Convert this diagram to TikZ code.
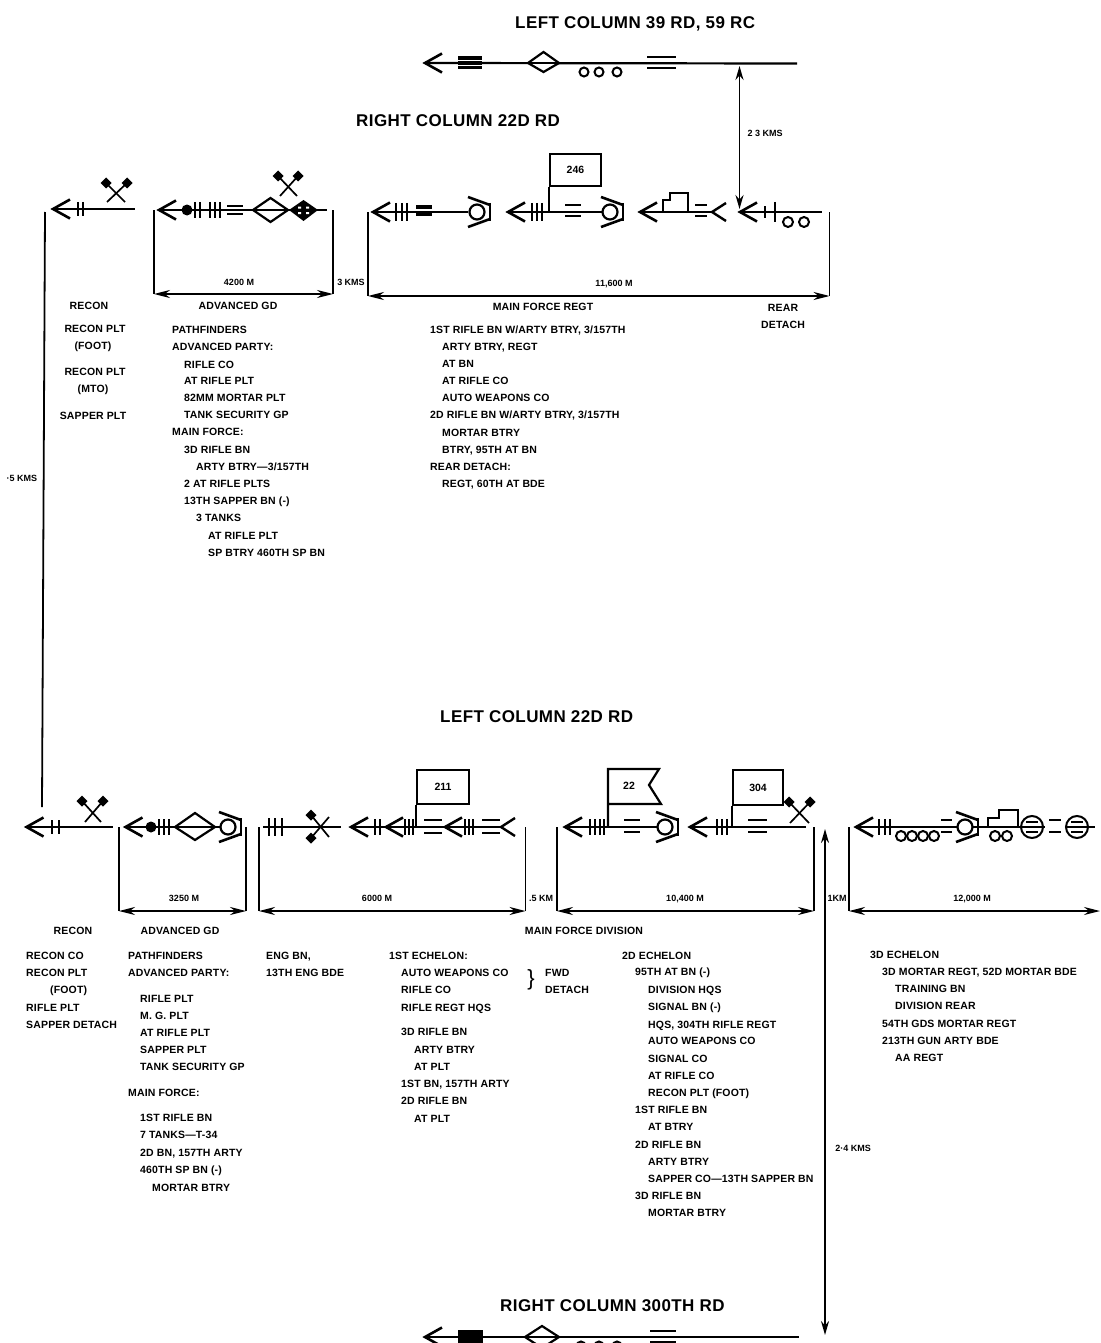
\documentclass[tikz,border=0pt]{standalone}
\usepackage{fontspec}
\usetikzlibrary{arrows.meta}
\setmainfont{Liberation Sans}
\newcounter{nn}
\tikzset{
 lab/.style={font=\fontsize{10.5}{11}\selectfont\bfseries\addfontfeature{LetterSpace=1.5},inner sep=0pt,text height=7.5pt,text depth=0pt},
 sml/.style={font=\fontsize{9}{10}\selectfont\bfseries,inner sep=0pt,text height=6.5pt,text depth=0pt},
 ttl/.style={font=\fontsize{17}{18}\selectfont\bfseries\addfontfeature{LetterSpace=2.5},inner sep=0pt,text height=12pt,text depth=0pt},
 sym/.style={line width=2.2pt,black,line join=miter},
 brk/.style={line width=1.5pt,black},
 dimline/.style={line width=1.8pt,black},
 flagbox/.style={draw,line width=2pt,inner sep=0pt,anchor=north west,font=\fontsize{10.5}{11}\selectfont\bfseries},
}
\newcommand{\Tl}[3]{\stepcounter{nn}\node[lab,anchor=west] (t\thenn) at (#1,#2) {#3};}
\newcommand{\Tc}[3]{\stepcounter{nn}\node[lab,anchor=center] (t\thenn) at (#1,#2) {#3};}
\newcommand{\Ts}[3]{\stepcounter{nn}\node[sml,anchor=center] (t\thenn) at (#1,#2) {#3};}
\newcommand{\Tt}[3]{\stepcounter{nn}\node[ttl,anchor=west] (t\thenn) at (#1,#2) {#3};}
% open left-pointing arrow head
\newcommand{\Ah}[2]{\draw[sym,line width=2.6pt] ({#1+17},{#2-9.5})--(#1,#2)--({#1+17},{#2+9.5});}
% ticks: y, half height, list
\newcommand{\Tk}[3]{\foreach \a in {#3}{\draw[sym,line width=2pt] (\a,{#1-#2})--(\a,{#1+#2});}}
% double bar: x1 x2 y1 y2
\newcommand{\Db}[4]{\draw[line width=2.6pt] (#1,#3)--(#2,#3) (#1,#4)--(#2,#4);}
% hash block
\newcommand{\Hb}[4]{\fill (#1,#3) rectangle (#2,#4);}
% crossed flag stick: foot, flag
\newcommand{\Xs}[4]{\draw[line width=1.7pt] (#1,#2)--(#3,#4); \fill (#3,{#4-5.5}) -- ({#3+5.5},#4) -- (#3,{#4+5.5}) -- ({#3-5.5},#4) -- cycle;}
% circle with wedge and bar
\newcommand{\Wc}[2]{\draw[sym,fill=white] (#1,#2) circle (7.5);
  \draw[sym,line width=2.6pt] ({#1-9},{#2-15})--({#1+13},{#2-7}) ({#1-9},{#2+15})--({#1+13},{#2+7});
  \draw[sym,line width=2.6pt] ({#1+13},{#2-9})--({#1+13},{#2+9});}
% tail
\newcommand{\Tail}[2]{\draw[sym,line width=2.4pt] ({#1+14},{#2-9})--(#1,#2)--({#1+14},{#2+9});}
% diamond x1 x2 y1 y2 centre y
\newcommand{\Dm}[5]{\draw[sym,fill=white] (#1,#5)--({(#1+#2)/2},#3)--(#2,#5)--({(#1+#2)/2},#4)--cycle; \draw[sym] (#1,#5)--(#2,#5);}
\newcommand{\Cr}[3]{\draw[line width=2pt,fill=white] (#1,#2) circle (#3);}
\begin{document}
\begin{tikzpicture}[x=1pt,y=-1pt]
\useasboundingbox (0,0) rectangle (1100,1343);
% titles
\Tt{515}{23}{LEFT COLUMN 39 RD, 59 RC}
\Tt{356}{121}{RIGHT COLUMN 22D RD}
\Tt{440}{716}{LEFT COLUMN 22D RD}
\Tt{500}{1305}{RIGHT COLUMN 300TH RD}
% ---- top column
\draw[sym] (425,63)--(797,63.5);
\Ah{425}{63}
\Hb{458}{482}{56}{69}
\draw[white,line width=.5pt] (458,60)--(482,60) (458,65.5)--(482,65.5);
\Dm{528}{559}{52}{72}{63}
\foreach \a in {584,599,617}{\Cr{\a}{72}{4.5}}
\Db{647}{676}{57}{68}
\coordinate (c1a) at (739.5,66); \coordinate (c1b) at (739.5,209);
\draw[dimline,<->,>={Stealth[length=14pt,width=8pt]}] (c1a)--(c1b);
\Ts{765}{133}{2 3 KMS}
% ---- right column row, y=212
% recon
\draw[sym] (53,209)--(135,209); \Ah{53}{209} \Tk{209}{7}{78,83}
\Xs{107}{202}{127}{183} \Xs{125}{202}{106}{183}
\coordinate (v1a) at (45,212); \coordinate (v1b) at (42,807);
\draw[brk,line width=1.8pt] (v1a)--(v1b);
\Ts{22}{478}{·5 KMS}
% advanced gd
\draw[sym] (159,210)--(327,210); \Ah{159}{210}
\fill (187,210) circle (5.5);
\Tk{210}{8}{195,200,210,215,220}
\Db{227}{243}{206}{214}
\Dm{253}{288}{198}{222}{210}
\fill (289,210)--(303.5,200)--(318,210)--(303.5,221)--cycle;
\fill[white] (298,206.5) rectangle (301,208.5) (306,206.5) rectangle (309,208.5) (298,212) rectangle (301,214) (306,212) rectangle (309,214);
\Xs{280}{196}{298}{176} \Xs{297}{196}{278}{176}
\coordinate (b1a) at (154,210); \coordinate (b1b) at (154,294);
\coordinate (b2a) at (333,210); \coordinate (b2b) at (333,294);
\draw[brk] (b1a)--(b1b) (b2a)--(b2b);
\draw[dimline,<->,>={Stealth[length=16pt,width=8pt]}] (b1b)--(b2b);
\Ts{239}{282}{4200 M}
\Ts{351}{282}{3 KMS}
% group 1
\draw[sym] (373,212)--(468,212); \Ah{373}{212} \Tk{212}{9}{396,402,407}
\draw[line width=3.5pt] (416,207)--(432,207) (416,214)--(432,214);
\Wc{477}{212}
% group 246
\draw[sym] (508,212)--(603,212); \Ah{508}{212} \Tk{212}{9}{532,537,542}
\coordinate (p1) at (549,212);
\node[flagbox,minimum width=51pt,minimum height=32pt] (f246) at (549,153) {246};
\draw[sym] (p1)--(f246.south west);
\Db{565}{581}{205}{216}
\Wc{610}{212}
% group tank
\draw[sym] (640,212)--(712,212); \Ah{640}{212}
\draw[sym] (663,212)--(663,200)--(670,200)--(670,193)--(688,193)--(688,212);
\Db{695}{707}{205}{216}
\Tail{712}{212}
% group rear
\draw[sym] (740,212)--(822,212); \Ah{740}{212}
\Tk{212}{6}{765}\Tk{212}{10}{775}
\Cr{788}{222}{5}\Cr{804}{222}{5}
\coordinate (b3a) at (368,212); \coordinate (b3b) at (368,296);
\coordinate (b4a) at (829.5,212); \coordinate (b4b) at (829.5,296);
\draw[brk] (b3a)--(b3b) (b4a)--(b4b);
\draw[dimline,<->,>={Stealth[length=16pt,width=8pt]}] (b3b)--(b4b);
\Ts{614}{283}{11,600 M}
% labels top
\Tc{89}{306}{RECON}\Tc{95}{329}{RECON PLT}\Tc{93}{346}{(FOOT)}\Tc{95}{372}{RECON PLT}\Tc{93}{389}{(MTO)}\Tc{93}{416}{SAPPER PLT}
\Tc{238}{306}{ADVANCED GD}
\Tl{172}{330}{PATHFINDERS}
\Tl{172}{347}{ADVANCED PARTY:}
\Tl{184}{365}{RIFLE CO}
\Tl{184}{381}{AT RIFLE PLT}
\Tl{184}{398}{82MM MORTAR PLT}
\Tl{184}{415}{TANK SECURITY GP}
\Tl{172}{432}{MAIN FORCE:}
\Tl{184}{450}{3D RIFLE BN}
\Tl{196}{467}{ARTY BTRY—3/157TH}
\Tl{184}{484}{2 AT RIFLE PLTS}
\Tl{184}{501}{13TH SAPPER BN (-)}
\Tl{196}{518}{3 TANKS}
\Tl{208}{536}{AT RIFLE PLT}
\Tl{208}{553}{SP BTRY 460TH SP BN}
\Tc{543}{307}{MAIN FORCE REGT}
\Tc{783}{308}{REAR}\Tc{783}{325}{DETACH}
\Tl{430}{330}{1ST RIFLE BN W/ARTY BTRY, 3/157TH}
\Tl{442}{347}{ARTY BTRY, REGT}
\Tl{442}{364}{AT BN}
\Tl{442}{381}{AT RIFLE CO}
\Tl{442}{398}{AUTO WEAPONS CO}
\Tl{430}{415}{2D RIFLE BN W/ARTY BTRY, 3/157TH}
\Tl{442}{433}{MORTAR BTRY}
\Tl{442}{450}{BTRY, 95TH AT BN}
\Tl{430}{467}{REAR DETACH:}
\Tl{442}{484}{REGT, 60TH AT BDE}
% ---- lower row y=827
% recon
\draw[sym] (26.5,827)--(113,827); \Ah{26.5}{827} \Tk{827}{7}{52,59}
\Xs{85}{822}{103}{801} \Xs{101}{822}{82}{801}
% advanced
\draw[sym] (125.5,827)--(222,827); \Ah{125.5}{827}
\fill (151,827) circle (5.5);
\Tk{827}{8}{159,164,169}
\Dm{175}{215}{813}{840}{827}
\Wc{228}{827}
\coordinate (l1a) at (119,827); \coordinate (l1b) at (119,911);
\coordinate (l2a) at (246,827); \coordinate (l2b) at (246,911);
\draw[brk] (l1a)--(l1b) (l2a)--(l2b);
\draw[dimline,<->,>={Stealth[length=16pt,width=8pt]}] (l1b)--(l2b);
\Ts{184}{898}{3250 M}
% 6000 group
\draw[sym] (263,827)--(341,827); \Tk{827}{9}{269,275,282}
\Xs{329}{817}{311}{838} \Xs{329}{837}{311}{815}
\draw[sym] (351,827)--(424,827); \Ah{351}{827} \Tk{827}{8}{375,380}
\Ah{386}{827} \Tk{827}{8}{405,409,413}
\node[flagbox,minimum width=52pt,minimum height=34pt] (f211) at (416,769) {211};
\coordinate (p2) at (416,827);
\draw[sym] (p2)--(f211.south west);
\draw[sym] (424,827)--(501,827);
\Db{424}{442}{820}{833}
\Ah{445}{827} \Tk{827}{8}{465,469,473}
\Db{482}{500}{820}{833}
\Tail{501}{827}
\coordinate (l3a) at (259,827); \coordinate (l3b) at (259,911);
\coordinate (l4a) at (525.5,827); \coordinate (l4b) at (525.5,911);
\draw[brk] (l3a)--(l3b) (l4a)--(l4b);
\draw[dimline,<->,>={Stealth[length=16pt,width=8pt]}] (l3b)--(l4b);
\Ts{377}{898}{6000 M}
\Ts{541}{898}{.5 KM}
% 22 group
\draw[sym] (565,827)--(658,827); \Ah{565}{827} \Tk{827}{8}{590,595,600,604}
\node[inner sep=0pt,font=\fontsize{10.5}{11}\selectfont\bfseries] (f22) at (629,786) {22};
\coordinate (p3) at (608,827);
\draw[sym] (p3)--(608,769)--(659,769)--(649,785)--(661,804)--(608,804);
\Db{624}{640}{820}{832}
\Wc{665}{827}
% 304 group
\draw[sym] (690,827)--(806,827); \Ah{690}{827} \Tk{827}{8}{717,722,727}
\node[flagbox,minimum width=50pt,minimum height=35pt] (f304) at (732,769) {304};
\coordinate (p4) at (732,827);
\draw[sym] (p4)--(f304.south west);
\Db{748}{767}{820}{832}
\Xs{790}{823}{810}{802} \Xs{809}{823}{789}{802}
\coordinate (l5a) at (557,827); \coordinate (l5b) at (557,911);
\coordinate (l6a) at (814,827); \coordinate (l6b) at (814,911);
\draw[brk] (l5a)--(l5b) (l6a)--(l6b);
\draw[dimline,<->,>={Stealth[length=16pt,width=8pt]}] (l5b)--(l6b);
\Ts{685}{898}{10,400 M}
\Ts{837}{898}{1KM}
% rear group
\draw[sym] (856,827)--(1045,827) (1065,827)--(1095,827); \Ah{856}{827} \Tk{827}{8}{879,885,890}
\foreach \a in {901,912,923,934}{\Cr{\a}{836}{5}}
\Db{941}{952}{820}{832}
\Wc{965}{827}
\draw[sym] (988,827)--(988,818)--(999,818)--(999,810)--(1018,810)--(1018,827);
\Cr{995}{836}{5}\Cr{1007}{836}{5}
\Cr{1032}{827}{11}
\Db{1026}{1038}{822}{832}
\Db{1049}{1061}{820}{832}
\Cr{1077}{827}{11}
\Db{1071}{1083}{822}{832}
\draw[line width=1.2pt] (1021,827)--(1043,827) (1066,827)--(1088,827);
\coordinate (l7a) at (849,827); \coordinate (l7b) at (849,911);
\coordinate (l8) at (1100,911);
\draw[brk] (l7a)--(l7b);
\draw[dimline,<->,>={Stealth[length=16pt,width=8pt]}] (l7b)--(l8);
\Ts{972}{898}{12,000 M}
% long vertical arrow
\coordinate (v2a) at (825,829); \coordinate (v2b) at (825,1335);
\draw[dimline,<->,>={Stealth[length=14pt,width=8pt]}] (v2a)--(v2b);
\Ts{853}{1148}{2·4 KMS}
% bottom column
\draw[sym] (425,1337)--(799,1337);
\Ah{425}{1337}
\Hb{458}{483}{1330}{1343}
\Dm{525}{559}{1326}{1348}{1337}
\foreach \a in {581,599,617}{\Cr{\a}{1346}{4.5}}
\Db{650}{676}{1331}{1342}
% lower labels
\Tc{73}{931}{RECON}\Tl{26}{956}{RECON CO}\Tl{26}{973}{RECON PLT}\Tl{50}{990}{(FOOT)}\Tl{26}{1008}{RIFLE PLT}\Tl{26}{1025}{SAPPER DETACH}
\Tc{180}{931}{ADVANCED GD}
\Tl{128}{956}{PATHFINDERS}
\Tl{128}{973}{ADVANCED PARTY:}
\Tl{140}{999}{RIFLE PLT}
\Tl{140}{1016}{M. G. PLT}
\Tl{140}{1033}{AT RIFLE PLT}
\Tl{140}{1050}{SAPPER PLT}
\Tl{140}{1067}{TANK SECURITY GP}
\Tl{128}{1093}{MAIN FORCE:}
\Tl{140}{1118}{1ST RIFLE BN}
\Tl{140}{1135}{7 TANKS—T-34}
\Tl{140}{1153}{2D BN, 157TH ARTY}
\Tl{140}{1170}{460TH SP BN (-)}
\Tl{152}{1188}{MORTAR BTRY}
\Tl{266}{956}{ENG BN,}
\Tl{266}{973}{13TH ENG BDE}
\Tl{389}{956}{1ST ECHELON:}
\Tl{401}{973}{AUTO WEAPONS CO}
\Tl{401}{990}{RIFLE CO}
\Tl{401}{1008}{RIFLE REGT HQS}
\Tl{401}{1032}{3D RIFLE BN}
\Tl{414}{1050}{ARTY BTRY}
\Tl{414}{1067}{AT PLT}
\Tl{401}{1084}{1ST BN, 157TH ARTY}
\Tl{401}{1101}{2D RIFLE BN}
\Tl{414}{1119}{AT PLT}
\node[inner sep=0pt,font=\fontsize{22}{24}\selectfont] (brace) at (531,980) {\}};
\Tl{545}{973}{FWD}
\Tl{545}{990}{DETACH}
\Tc{584}{931}{MAIN FORCE DIVISION}
\Tl{622}{956}{2D ECHELON}
\Tl{635}{972}{95TH AT BN (-)}
\Tl{648}{990}{DIVISION HQS}
\Tl{648}{1007}{SIGNAL BN (-)}
\Tl{648}{1025}{HQS, 304TH RIFLE REGT}
\Tl{648}{1041}{AUTO WEAPONS CO}
\Tl{648}{1059}{SIGNAL CO}
\Tl{648}{1076}{AT RIFLE CO}
\Tl{648}{1093}{RECON PLT (FOOT)}
\Tl{635}{1110}{1ST RIFLE BN}
\Tl{648}{1127}{AT BTRY}
\Tl{635}{1145}{2D RIFLE BN}
\Tl{648}{1162}{ARTY BTRY}
\Tl{648}{1179}{SAPPER CO—13TH SAPPER BN}
\Tl{635}{1196}{3D RIFLE BN}
\Tl{648}{1213}{MORTAR BTRY}
\Tl{870}{955}{3D ECHELON}
\Tl{882}{972}{3D MORTAR REGT, 52D MORTAR BDE}
\Tl{895}{989}{TRAINING BN}
\Tl{895}{1006}{DIVISION REAR}
\Tl{882}{1024}{54TH GDS MORTAR REGT}
\Tl{882}{1041}{213TH GUN ARTY BDE}
\Tl{895}{1058}{AA REGT}
\end{tikzpicture}
\end{document}
